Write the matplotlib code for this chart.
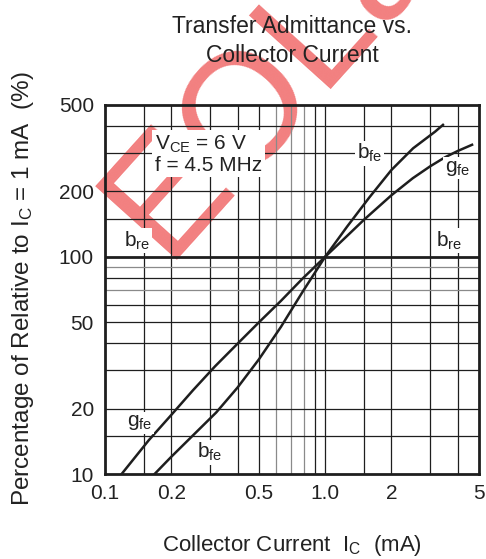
import matplotlib
matplotlib.use('Agg')
import matplotlib.pyplot as plt

plt.rcParams['font.family'] = ['Liberation Sans', 'DejaVu Sans']
plt.rcParams['mathtext.fontset'] = 'custom'
plt.rcParams['mathtext.rm'] = 'Liberation Sans'
plt.rcParams['mathtext.it'] = 'Liberation Sans:italic'

# collector current (mA) vs. admittance relative to Ic = 1 mA (%)
gfe_ic = [0.119, 0.158, 0.20, 0.251, 0.316, 0.398, 0.50, 0.63, 0.79, 1.0,
          1.25, 1.5, 2.0, 2.5, 3.0, 3.5, 4.0, 4.65]
gfe_pct = [10, 14.3, 18.7, 24.3, 31.3, 39.6, 49.9, 62.7, 79.4, 100,
           124, 148, 192, 230, 261, 287, 307, 328]
bfe_ic = [0.168, 0.20, 0.25, 0.32, 0.40, 0.50, 0.63, 0.79, 1.0,
          1.26, 1.59, 2.0, 2.51, 3.16, 3.43]
bfe_pct = [10, 12, 15, 19.2, 25, 33.7, 47.6, 69, 100,
           138, 188, 251, 316, 377, 405]
bre_ic = [0.1, 5]
bre_pct = [100, 100]

x_ticks = [0.1, 0.2, 0.5, 1.0, 2, 5]
x_ticklabels = ['0.1', '0.2', '0.5', '1.0', '2', '5']
y_ticks = [10, 20, 50, 100, 200, 500]
y_ticklabels = ['10', '20', '50', '100', '200', '500']

x_grid = [0.15, 0.2, 0.3, 0.4, 0.5, 0.9, 1.0, 1.5, 2, 3, 4]
x_grid_light = [0.6, 0.7, 0.8]
y_grid = [15, 20, 30, 40, 50, 60, 80, 150, 200, 300, 400]
y_grid_light = [70, 90]

ink = '#1e1e1e'

fig = plt.figure(figsize=(4.86, 5.59), dpi=100)
ax = fig.add_axes([105 / 486, 85 / 559, 374 / 486, 369 / 559])
ax.set_xscale('log')
ax.set_yscale('log')
ax.set_xlim(0.1, 5)
ax.set_ylim(10, 500)

for x in x_grid:
    ax.axvline(x, color=ink, lw=0.9, zorder=1)
for x in x_grid_light:
    ax.axvline(x, color='#8a8a8a', lw=0.9, zorder=1)
for y in y_grid:
    ax.axhline(y, color=ink, lw=0.9, zorder=1)
for y in y_grid_light:
    ax.axhline(y, color='#8a8a8a', lw=0.9, zorder=1)

ax.plot(gfe_ic, gfe_pct, color=ink, lw=1.8, zorder=3, solid_joinstyle='round')
ax.plot(bfe_ic, bfe_pct, color=ink, lw=1.8, zorder=3, solid_joinstyle='round')
ax.plot(bre_ic, bre_pct, color=ink, lw=2.0, zorder=3)

ax.set_xticks(x_ticks)
ax.set_xticklabels(x_ticklabels)
ax.set_yticks(y_ticks)
ax.set_yticklabels(y_ticklabels)
ax.minorticks_off()
ax.tick_params(length=0, labelsize=15, colors='#222222')
ax.tick_params(axis='x', pad=7)
ax.tick_params(axis='y', pad=8)
for s in ax.spines.values():
    s.set_linewidth(2.0)
    s.set_color(ink)
    s.set_zorder(5)

box = dict(facecolor='white', edgecolor='none', pad=1.0)
lab = dict(fontsize=15, ha='center', va='center', zorder=4, bbox=box, color='#222222')
ax.text(0.169, 297, 'V$_\\mathrm{CE}$ = 6 V\nf = 4.5 MHz', fontsize=15, ha='left', va='center',
        zorder=4, color='#222222', linespacing=1.05,
        bbox=dict(facecolor='white', edgecolor='none', pad=2))
ax.text(1.59, 300, 'b$_\\mathrm{fe}$', **lab)
ax.text(3.99, 256, 'g$_\\mathrm{fe}$', **lab)
ax.text(0.14, 119, 'b$_\\mathrm{re}$', **lab)
ax.text(3.67, 119, 'b$_\\mathrm{re}$', **lab)
ax.text(0.144, 17.2, 'g$_\\mathrm{fe}$', **lab)
ax.text(0.30, 12.6, 'b$_\\mathrm{fe}$', **lab)

# watermark stamp behind the grid
ax.text(0.618, 0.915, 'EOLab', transform=fig.transFigure, rotation=48, fontsize=115,
        color='#f28080', ha='center', va='center', zorder=0.5, clip_on=False)

fig.text(292 / 486, 1 - 33 / 559, 'Transfer Admittance vs.', ha='center', va='baseline',
         fontsize=16.5, color='#222222')
fig.text(292 / 486, 1 - 62 / 559, 'Collector Current', ha='center', va='baseline',
         fontsize=16.5, color='#222222')
fig.text(292 / 486, 1 - 551 / 559, 'Collector Current  I$_\\mathrm{C}$  (mA)', ha='center',
         va='baseline', fontsize=16, color='#222222')
fig.text(23 / 486, 1 - 289 / 559, 'Percentage of Relative to I$_\\mathrm{C}$ = 1 mA  (%)',
         rotation=90, ha='center', va='center', fontsize=17.5, color='#222222')

fig.savefig('out.png', dpi=100)
